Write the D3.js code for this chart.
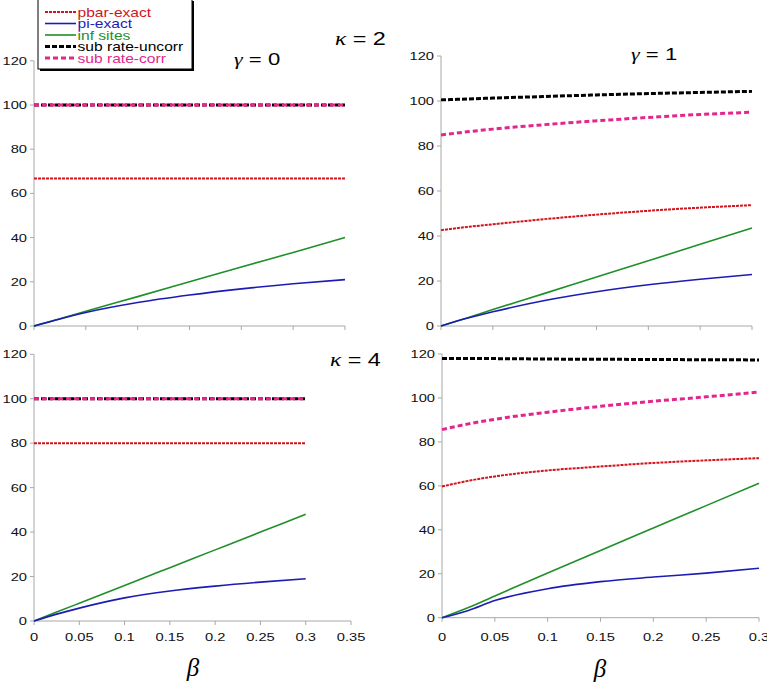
<!DOCTYPE html>
<html><head><meta charset="utf-8">
<script src="https://cdn.jsdelivr.net/npm/d3@7"></script>
<style>body{margin:0;background:#fff}svg{display:block}</style>
</head><body>
<svg id="c" width="767" height="684"></svg>
<script>
// ---------- data ----------
const betas = [0, 0.025, 0.05, 0.1, 0.15, 0.2, 0.25, 0.3];
const yTicks = [0, 20, 40, 60, 80, 100, 120];
const xTicks30 = [0, 0.05, 0.1, 0.15, 0.2, 0.25, 0.3];
const xTicks35 = [0, 0.05, 0.1, 0.15, 0.2, 0.25, 0.3, 0.35];
const seriesNames = ["pbar-exact", "pi-exact", "inf sites", "sub rate-uncorr", "sub rate-corr"];
const kappaLabels = ["2", "4"];
const gammaLabels = ["0", "1"];

// kappa = 2, gamma = 0
const k2g0_pbar   = [66.7, 66.7, 66.7, 66.7, 66.7, 66.7, 66.7, 66.7];
const k2g0_pi     = [0, 3.2, 6.1, 10.6, 14.0, 16.8, 19.1, 21.0];
const k2g0_inf    = [0, 3.3, 6.7, 13.3, 20.0, 26.7, 33.3, 40.0];
const k2g0_uncorr = [100, 100, 100, 100, 100, 100, 100, 100];
const k2g0_corr   = [100, 100, 100, 100, 100, 100, 100, 100];
// kappa = 2, gamma = 1
const k2g1_pbar   = [42.6, 44.0, 45.2, 47.5, 49.5, 51.2, 52.6, 53.7];
const k2g1_pi     = [0, 3.4, 6.3, 11.3, 15.2, 18.3, 20.8, 22.9];
const k2g1_inf    = [0, 3.6, 7.3, 14.5, 21.8, 29.0, 36.3, 43.6];
const k2g1_uncorr = [100.5, 100.9, 101.3, 102.0, 102.7, 103.3, 103.8, 104.3];
const k2g1_corr   = [84.9, 86.3, 87.5, 89.5, 91.2, 92.7, 94.0, 95.0];
// kappa = 4, gamma = 0
const k4g0_pbar   = [80, 80, 80, 80, 80, 80, 80, 80];
const k4g0_pi     = [0, 3.1, 5.8, 10.4, 13.5, 15.7, 17.5, 19.0];
const k4g0_inf    = [0, 4.0, 8.0, 16.0, 24.0, 32.0, 40.0, 48.0];
const k4g0_uncorr = [100, 100, 100, 100, 100, 100, 100, 100];
const k4g0_corr   = [100, 100, 100, 100, 100, 100, 100, 100];
// kappa = 4, gamma = 1
const k4g1_pbar   = [59.7, 62.3, 64.3, 67.0, 68.8, 70.4, 71.6, 72.6];
const k4g1_pi     = [0, 3.3, 7.8, 13.2, 16.4, 18.5, 20.3, 22.5];
const k4g1_inf    = [0, 4.6, 9.9, 20.3, 30.6, 40.8, 51.0, 61.2];
const k4g1_uncorr = [118.0, 117.95, 117.9, 117.7, 117.6, 117.5, 117.4, 117.3];
const k4g1_corr   = [85.6, 88.2, 90.3, 93.5, 96.2, 98.5, 100.5, 102.7];

// ---------- styles ----------
const styles = {
  "pbar-exact":      {color: "#d0141e", width: 2,   dash: "3,1"},
  "pi-exact":        {color: "#1c1cb4", width: 1.6, dash: null},
  "inf sites":       {color: "#1f8f2a", width: 1.6, dash: null},
  "sub rate-uncorr": {color: "#000000", width: 3,   dash: "5,2"},
  "sub rate-corr":   {color: "#e2268e", width: 3,   dash: "5,3"}
};
const drawOrder = ["sub rate-uncorr", "sub rate-corr", "pbar-exact", "inf sites", "pi-exact"];

const panels = [
  {x0: 34,  x1: 345, y0: 326,   y1: 60.8, xmax: 0.3,  xt: xTicks30, xlabels: false,
   data: {"pbar-exact": k2g0_pbar, "pi-exact": k2g0_pi, "inf sites": k2g0_inf, "sub rate-uncorr": k2g0_uncorr, "sub rate-corr": k2g0_corr}},
  {x0: 441, x1: 752, y0: 326,   y1: 56,   xmax: 0.3,  xt: xTicks30, xlabels: false,
   data: {"pbar-exact": k2g1_pbar, "pi-exact": k2g1_pi, "inf sites": k2g1_inf, "sub rate-uncorr": k2g1_uncorr, "sub rate-corr": k2g1_corr}},
  {x0: 34,  x1: 351, y0: 621,   y1: 354.3, xmax: 0.35, xt: xTicks35, xlabels: true,
   data: {"pbar-exact": k4g0_pbar, "pi-exact": k4g0_pi, "inf sites": k4g0_inf, "sub rate-uncorr": k4g0_uncorr, "sub rate-corr": k4g0_corr}},
  {x0: 442, x1: 759, y0: 617.7, y1: 354,  xmax: 0.3,  xt: xTicks30, xlabels: true,
   data: {"pbar-exact": k4g1_pbar, "pi-exact": k4g1_pi, "inf sites": k4g1_inf, "sub rate-uncorr": k4g1_uncorr, "sub rate-corr": k4g1_corr}}
];

const svg = d3.select("#c");
const SANS = "'Liberation Sans', Arial, Helvetica, sans-serif";
const SERIF = "'Liberation Serif', 'Times New Roman', serif";
const SX = 1.28;
const fmt = d => String(+d.toFixed(2));

function stretchedText(g, x, y, txt, anchor, size, sx, fill) {
  return g.append("text")
    .attr("transform", `translate(${x},${y}) scale(${sx},1)`)
    .attr("text-anchor", anchor)
    .attr("font-family", SANS).attr("font-size", size)
    .attr("fill", fill || "#111").text(txt);
}

panels.forEach(p => {
  const x = d3.scaleLinear().domain([0, p.xmax]).range([p.x0, p.x1]);
  const y = d3.scaleLinear().domain([0, 120]).range([p.y0, p.y1]);
  const g = svg.append("g");
  // axes
  g.append("line").attr("x1", x(0)).attr("x2", x(p.xmax)).attr("y1", y(0)).attr("y2", y(0))
    .attr("stroke", "#a8a8a8").attr("stroke-width", 1);
  g.append("line").attr("x1", x(0)).attr("x2", x(0)).attr("y1", y(0)).attr("y2", y(120))
    .attr("stroke", "#a8a8a8").attr("stroke-width", 1);
  yTicks.forEach(t => {
    g.append("line").attr("x1", x(0) - 4).attr("x2", x(0)).attr("y1", y(t)).attr("y2", y(t))
      .attr("stroke", "#a8a8a8");
    stretchedText(g, x(0) - 7, y(t) + 4, String(t), "end", 11.5, SX);
  });
  p.xt.forEach(t => {
    g.append("line").attr("x1", x(t)).attr("x2", x(t)).attr("y1", y(0)).attr("y2", y(0) + 4)
      .attr("stroke", "#a8a8a8");
    if (p.xlabels) stretchedText(g, x(t), 641, fmt(t), "middle", 11.5, SX);
  });
  // lines
  drawOrder.forEach(name => {
    const st = styles[name];
    const vals = p.data[name];
    const line = d3.line().x((d, i) => x(betas[i])).y(d => y(d)).curve(d3.curveMonotoneX);
    g.append("path").datum(vals).attr("d", line)
      .attr("fill", "none").attr("stroke", st.color).attr("stroke-width", st.width)
      .attr("stroke-dasharray", st.dash);
  });
});

// kappa labels
function greekLabel(x, y, greek, rest, size) {
  const t = svg.append("text").attr("transform", `translate(${x},${y}) scale(1.3,1)`)
    .attr("font-size", size).attr("fill", "#000");
  t.append("tspan").attr("font-family", SERIF).attr("font-style", "italic").text(greek);
  t.append("tspan").attr("font-family", SANS).text(" = " + rest);
}
greekLabel(335, 45, "κ", kappaLabels[0], 18);
greekLabel(330, 366, "κ", kappaLabels[1], 18);
greekLabel(234, 65, "γ", gammaLabels[0], 17);
greekLabel(631, 60, "γ", gammaLabels[1], 17);

// beta axis titles
[[193, 676], [600, 677]].forEach(([bx, by]) => {
  svg.append("text").attr("x", bx).attr("y", by).attr("text-anchor", "middle")
    .attr("font-family", SERIF).attr("font-style", "italic").attr("font-size", 25)
    .attr("fill", "#000").text("β");
});

// legend
const lg = svg.append("g");
lg.append("rect").attr("x", 40).attr("y", 1).attr("width", 154).attr("height", 70).attr("fill", "#000");
lg.append("rect").attr("x", 38).attr("y", -1).attr("width", 154).attr("height", 70)
  .attr("fill", "#fff").attr("stroke", "#000").attr("stroke-width", 1);
const rowY = [12, 23.5, 35, 46.5, 58];
seriesNames.forEach((name, i) => {
  const st = styles[name];
  lg.append("line").attr("x1", 45).attr("x2", 76).attr("y1", rowY[i]).attr("y2", rowY[i])
    .attr("stroke", st.color).attr("stroke-width", st.width)
    .attr("stroke-dasharray", st.dash);
  stretchedText(lg, 77.5, rowY[i] + 4.5, name, "start", 12, 1.3, st.color === "#000000" ? "#000" : st.color);
});
</script>
</body></html>
